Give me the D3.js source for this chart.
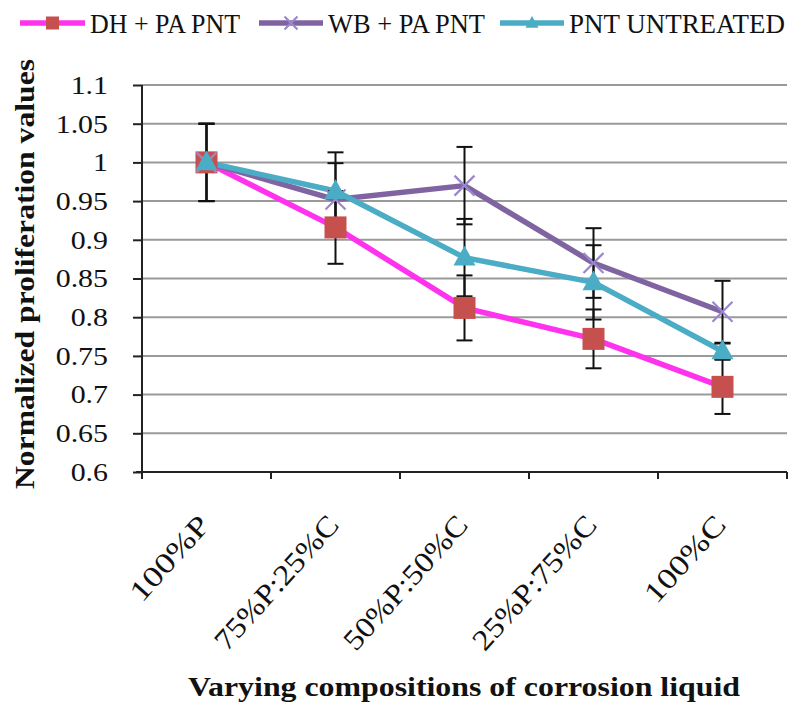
<!DOCTYPE html>
<html><head><meta charset="utf-8">
<script src="https://cdn.jsdelivr.net/npm/d3@7"></script>
<style>
html,body{margin:0;padding:0;background:#fff;}
svg text{font-family:"Liberation Serif","Times New Roman",Times,"Nimbus Roman",serif;fill:#111;}
</style>
</head><body>
<svg id="chart" width="800" height="714"></svg>
<script>
const categories = ["100%P","75%P:25%C","50%P:50%C","25%P:75%C","100%C"];
const seriesNames = ["DH + PA PNT","WB + PA PNT","PNT UNTREATED"];
const dhValues = [1.0, 0.916, 0.812, 0.772, 0.710];
const dhErrors = [0.05, 0.047, 0.042, 0.038, 0.035];
const wbValues = [1.0, 0.952, 0.970, 0.870, 0.807];
const wbErrors = [0.05, 0.047, 0.05, 0.045, 0.04];
const tuValues = [1.0, 0.963, 0.877, 0.845, 0.756];
const tuErrors = [0.05, 0.05, 0.05, 0.048, 0.01];
const yTicks = [0.6,0.65,0.7,0.75,0.8,0.85,0.9,0.95,1,1.05,1.1];
const yTitle = "Normalized proliferation values";
const xTitle = "Varying compositions of corrosion liquid";

const series = [
  {name: seriesNames[0], values: dhValues, errors: dhErrors, line:"#FF33EE", marker:"square", fill:"#C6504D"},
  {name: seriesNames[1], values: wbValues, errors: wbErrors, line:"#8064A2", marker:"x", fill:"#9B88CC"},
  {name: seriesNames[2], values: tuValues, errors: tuErrors, line:"#4BACC6", marker:"triangle", fill:"#4BACC6"}
];

const FONT = '"Liberation Serif","Times New Roman",Times,serif';
const svg = d3.select("#chart");
const L = 142, R = 787, T = 85, B = 472;
const x = d3.scalePoint().domain(categories).range([L, R]).padding(0.5);
const y = d3.scaleLinear().domain([0.6, 1.1]).range([B, T]);

// gridlines
svg.append("g").selectAll("line").data(yTicks.filter(d => d > 0.6)).join("line")
  .attr("x1", L).attr("x2", R).attr("y1", d => y(d)).attr("y2", d => y(d))
  .attr("stroke", "#9a9a9a").attr("stroke-width", 2);

// y axis
const yAxis = svg.append("g").attr("transform", `translate(${L},0)`)
  .call(d3.axisLeft(y).tickValues(yTicks).tickSize(9).tickFormat(""));
yAxis.select(".domain").attr("stroke", "#222").attr("stroke-width", 2).attr("d", `M0,${T}V${B+6}`);
yAxis.selectAll(".tick line").attr("stroke", "#222").attr("stroke-width", 2);

svg.append("g").selectAll("text").data(yTicks).join("text")
  .attr("transform", d => `translate(108,${y(d)}) scale(1.15,1)`)
  .attr("text-anchor", "end").attr("dy", "0.34em")
  .attr("font-family", FONT)
  .style("font-size", "26px")
  .text(d => d3.format("")(+d.toFixed(2)));

// x axis
const bounds = d3.range(categories.length + 1).map(i => L + i * x.step());
const xg = svg.append("g");
xg.append("line").attr("x1", L - 6).attr("x2", R).attr("y1", B).attr("y2", B)
  .attr("stroke", "#222").attr("stroke-width", 2);
xg.selectAll(".tk").data(bounds).join("line").attr("class","tk")
  .attr("x1", d => d).attr("x2", d => d).attr("y1", B).attr("y2", B + 7)
  .attr("stroke", "#222").attr("stroke-width", 2);

const labelLen = {"100%P":104,"75%P:25%C":170,"50%P:50%C":170,"25%P:75%C":170,"100%C":106};
svg.append("g").selectAll("text").data(categories).join("text")
  .attr("transform", d => `translate(${x(d) + 5},${526}) rotate(-48)`)
  .attr("text-anchor", "end")
  .attr("font-family", FONT)
  .attr("textLength", d => labelLen[d]).attr("lengthAdjust", "spacingAndGlyphs")
  .style("font-size", "29px")
  .text(d => d);

// titles
svg.append("text")
  .attr("transform", "translate(34,274) rotate(-90)")
  .attr("text-anchor", "middle")
  .attr("font-family", FONT)
  .attr("textLength", 430).attr("lengthAdjust", "spacingAndGlyphs")
  .style("font-size", "27px").style("font-weight", "bold")
  .text(yTitle);
svg.append("text")
  .attr("x", 464).attr("y", 696)
  .attr("text-anchor", "middle")
  .attr("font-family", FONT)
  .attr("textLength", 552).attr("lengthAdjust", "spacingAndGlyphs")
  .style("font-size", "27px").style("font-weight", "bold")
  .text(xTitle);

// marker drawing
function drawMarker(g, type, fill, size) {
  if (type === "square") {
    g.append("rect").attr("x", -size/2).attr("y", -size/2).attr("width", size).attr("height", size)
      .attr("fill", fill);
  } else if (type === "triangle") {
    const h = size * 0.9;
    g.append("path").attr("d", `M0,${-h*0.6}L${size/2},${h*0.4}L${-size/2},${h*0.4}Z`).attr("fill", fill);
  } else {
    const s = size / 2;
    g.append("path").attr("d", `M${-s},${-s}L${s},${s}M${-s},${s}L${s},${-s}`)
      .attr("stroke", fill).attr("stroke-width", 2.2).attr("fill", "none");
  }
}

const plot = svg.append("g");
const lineGen = d3.line().x((d, i) => x(categories[i])).y(d => y(d));
series.forEach(s => {
  plot.append("path").datum(s.values).attr("d", lineGen)
    .attr("fill", "none").attr("stroke", s.line).attr("stroke-width", 5.5)
    .attr("stroke-linejoin", "round");
});
series.forEach(s => {
  const eg = plot.append("g");
  s.values.forEach((v, i) => {
    const cx = x(categories[i]);
    const e = s.errors[i];
    eg.append("line").attr("x1", cx).attr("x2", cx).attr("y1", y(v + e)).attr("y2", y(v - e))
      .attr("stroke", "#111").attr("stroke-width", 2);
    [v + e, v - e].forEach(w => {
      eg.append("line").attr("x1", cx - 8).attr("x2", cx + 8).attr("y1", y(w)).attr("y2", y(w))
        .attr("stroke", "#111").attr("stroke-width", 2);
    });
  });
});
series.forEach(s => {
  s.values.forEach((v, i) => {
    const g = plot.append("g").attr("transform", `translate(${x(categories[i])},${y(v)})`);
    drawMarker(g, s.marker, s.fill, s.marker === "x" ? 20 : 22);
  });
});

// legend
const legendItems = [
  {x1: 20, x2: 85, tx: 90, tl: 150},
  {x1: 259, x2: 323, tx: 328, tl: 157},
  {x1: 500, x2: 564, tx: 569, tl: 216}
];
series.forEach((s, i) => {
  const it = legendItems[i];
  const g = svg.append("g");
  g.append("line").attr("x1", it.x1).attr("x2", it.x2).attr("y1", 23).attr("y2", 23)
    .attr("stroke", s.line).attr("stroke-width", 5.5);
  const m = g.append("g").attr("transform", `translate(${(it.x1 + it.x2) / 2},23)`);
  drawMarker(m, s.marker, s.fill, 13);
  g.append("text").attr("x", it.tx).attr("y", 33)
    .attr("font-family", FONT)
    .attr("textLength", it.tl).attr("lengthAdjust", "spacingAndGlyphs")
    .style("font-size", "28px").text(s.name);
});
</script>
</body></html>
